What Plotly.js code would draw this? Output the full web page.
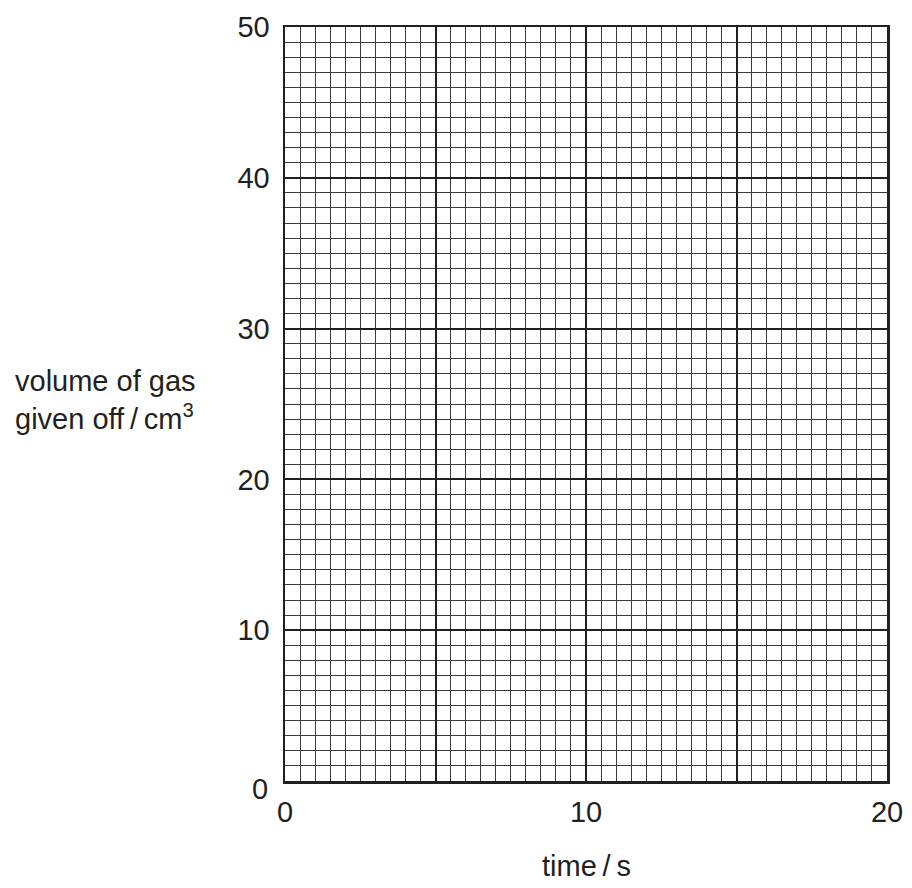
<!DOCTYPE html>
<html><head><meta charset="utf-8">
<script src="https://cdn.plot.ly/plotly-3.0.1.min.js"></script>
<style>body{margin:0;background:#fff}#c{width:912px;height:888px}</style>
</head><body><div id="c"></div>
<script>
const xRange = [0, 20];
const yRange = [0, 50];
const xTickVals = [0, 10, 20];
const xTickText = ['0', '10', '20'];
const xMajorGridStep = 5;
const yTickVals = [10, 20, 30, 40, 50];
const yTickText = ['10', '20', '30', '40', '50'];
const yOriginLabel = '0';
const xTitle = 'time\u2009/\u2009s';
const yTitleLines = ['volume of gas', 'given off\u2009/\u2009cm<sup>3</sup>'];

const ink = '#231f20';
const font = {family: 'Liberation Sans, Arial, sans-serif', size: 29, color: ink};

const layout = {
  width: 912, height: 888,
  margin: {l: 285, r: 25, t: 27, b: 107},
  paper_bgcolor: '#fff', plot_bgcolor: '#fff',
  showlegend: false,
  font: font,
  xaxis: {
    range: xRange, tickmode: 'array', tickvals: xTickVals, ticktext: xTickText,
    showgrid: true, gridcolor: ink, gridwidth: 2,
    minor: {dtick: 0.5, showgrid: true, gridcolor: '#3a3a3a', gridwidth: 1, ticks: ''},
    showline: true, linecolor: ink, linewidth: 2.5, mirror: true,
    ticks: '', zeroline: false, tickfont: font, ticklabelstandoff: 4, fixedrange: true
  },
  xaxis2: {
    range: xRange, overlaying: 'x', side: 'bottom', dtick: xMajorGridStep, tick0: 0,
    showgrid: true, gridcolor: ink, gridwidth: 2, showticklabels: false,
    showline: false, ticks: '', zeroline: false, fixedrange: true
  },
  yaxis: {
    range: yRange, tickmode: 'array', tickvals: yTickVals, ticktext: yTickText,
    showgrid: true, gridcolor: ink, gridwidth: 2,
    minor: {dtick: 1, showgrid: true, gridcolor: '#3a3a3a', gridwidth: 1, ticks: ''},
    showline: true, linecolor: ink, linewidth: 2.5, mirror: true,
    ticks: '', zeroline: false, tickfont: font, ticklabelstandoff: 7, fixedrange: true
  },
  annotations: [
    {text: yOriginLabel, xref: 'paper', yref: 'y', x: 0, y: yRange[0], xanchor: 'right', yanchor: 'middle',
     xshift: -15, yshift: -8, showarrow: false, font: font},
    {text: xTitle, xref: 'paper', yref: 'paper', x: 0.5, y: -0.113, xanchor: 'center', yanchor: 'middle',
     showarrow: false, font: {family: font.family, size: 29, color: ink}},
    {text: yTitleLines.join('<br>'), xref: 'paper', yref: 'paper', x: -0.452, y: 0.505, xanchor: 'left', yanchor: 'middle',
     align: 'left', showarrow: false, font: {family: font.family, size: 29, color: ink}}
  ]
};

const traces = [
  {x: xRange, y: yRange, mode: 'markers', marker: {opacity: 0}, hoverinfo: 'skip'},
  {x: xRange, y: yRange, xaxis: 'x2', yaxis: 'y', mode: 'markers', marker: {opacity: 0}, hoverinfo: 'skip'}
];
Plotly.newPlot('c', traces, layout, {staticPlot: true});
</script></body></html>
